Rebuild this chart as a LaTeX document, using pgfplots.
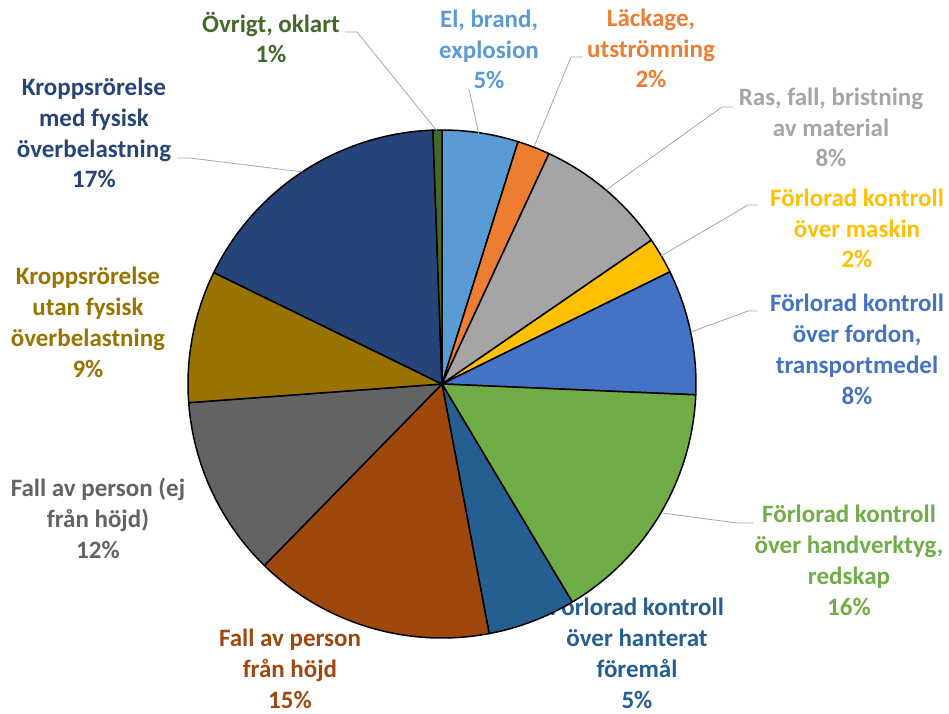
\documentclass[border=0pt]{standalone}
\usepackage{pgfplots}
\pgfplotsset{compat=1.18}
\usepackage{pgfplotstable}
\usepackage{fontspec}
\setmainfont{Carlito}
\definecolor{cEl}{HTML}{5B9BD5}
\definecolor{cLa}{HTML}{ED7D31}
\definecolor{cRa}{HTML}{A5A5A5}
\definecolor{cMa}{HTML}{FFC000}
\definecolor{cFo}{HTML}{4472C4}
\definecolor{cHv}{HTML}{70AD47}
\definecolor{cHa}{HTML}{255E91}
\definecolor{cFh}{HTML}{9E480E}
\definecolor{cFe}{HTML}{636363}
\definecolor{cUt}{HTML}{997300}
\definecolor{cMe}{HTML}{264478}
\definecolor{cOv}{HTML}{43682B}
\definecolor{leader}{HTML}{A6A6A6}
% share of each category (percent), clockwise from 12 o'clock
\pgfplotstableread{
value color
4.84  cEl
2.08  cLa
8.50  cRa
2.30  cMa
7.96  cFo
15.75 cHv
5.60  cHa
15.30 cFh
11.50 cFe
8.40  cUt
17.20 cMe
0.57  cOv
}\piedata
\newcommand{\lblfont}{\fontsize{25}{30.7}\selectfont\bfseries}
\begin{document}
\begin{tikzpicture}
\begin{axis}[scale only axis, width=949pt, height=713pt,
  xmin=0, xmax=949, ymin=0, ymax=713, hide axis, clip=false]
\tikzset{lbl/.style={anchor=base, align=center, font=\lblfont, inner sep=0pt}}
% label partly hidden behind the pie
\node[lbl, text=cHa] at (axis cs:637,5) {Förlorad kontroll\\över hanterat\\föremål\\5\%};
% pie
\def\cum{0}
\pgfplotsforeachungrouped \i in {0,...,11}{%
  \pgfplotstablegetelem{\i}{value}\of\piedata \let\v\pgfplotsretval
  \pgfplotstablegetelem{\i}{color}\of\piedata \let\c\pgfplotsretval
  \pgfmathsetmacro\sa{90-3.6*\cum}%
  \pgfmathsetmacro\ea{90-3.6*(\cum+\v)}%
  \edef\temp{\noexpand\filldraw[fill=\c, draw=black, line width=1.5pt, line join=round] (axis cs:442,329) -- ++(\sa:254pt) arc[start angle=\sa, end angle=\ea, radius=254pt] -- cycle;}%
  \temp
  \pgfmathsetmacro\cum{\cum+\v}%
}
% leader lines
\draw[leader, line width=0.8pt] (axis cs:345,681) -- (axis cs:357,681) -- (axis cs:437,582);
\draw[leader, line width=0.8pt] (axis cs:469,624) -- (axis cs:479,578);
\draw[leader, line width=0.8pt] (axis cs:583,656) -- (axis cs:571,656) -- (axis cs:534,566);
\draw[leader, line width=0.8pt] (axis cs:733,606) -- (axis cs:722,606) -- (axis cs:606,523);
\draw[leader, line width=0.8pt] (axis cs:758,508) -- (axis cs:748,508) -- (axis cs:661,457);
\draw[leader, line width=0.8pt] (axis cs:758,402) -- (axis cs:748,402) -- (axis cs:691,381);
\draw[leader, line width=0.8pt] (axis cs:753,190) -- (axis cs:737,190) -- (axis cs:662,200);
\draw[leader, line width=0.8pt] (axis cs:177,555) -- (axis cs:190,555) -- (axis cs:303,541);
% labels (anchored at the baseline of their last line)
\node[lbl, text=cOv] at (axis cs:271,650) {Övrigt, oklart\\1\%};
\node[lbl, text=cEl] at (axis cs:489,624) {El, brand,\\explosion\\5\%};
\node[lbl, text=cLa] at (axis cs:651,625) {Läckage,\\utströmning\\2\%};
\node[lbl, text=cRa] at (axis cs:831,546) {Ras, fall, bristning\\av material\\8\%};
\node[lbl, text=cMa] at (axis cs:857,445) {Förlorad kontroll\\över maskin\\2\%};
\node[lbl, text=cFo] at (axis cs:857,309) {Förlorad kontroll\\över fordon,\\transportmedel\\8\%};
\node[lbl, text=cHv] at (axis cs:849,98) {Förlorad kontroll\\över handverktyg,\\redskap\\16\%};
\node[lbl, text=cFh] at (axis cs:290,5) {Fall av person\\från höjd\\15\%};
\node[lbl, text=cFe] at (axis cs:98,155) {Fall av person (ej\\från höjd)\\12\%};
\node[lbl, text=cUt] at (axis cs:88,336) {Kroppsrörelse\\utan fysisk\\överbelastning\\9\%};
\node[lbl, text=cMe] at (axis cs:94,525) {Kroppsrörelse\\med fysisk\\överbelastning\\17\%};
\end{axis}
\pgfresetboundingbox
\useasboundingbox (0,0) rectangle (949pt,713pt);
\end{tikzpicture}
\end{document}
